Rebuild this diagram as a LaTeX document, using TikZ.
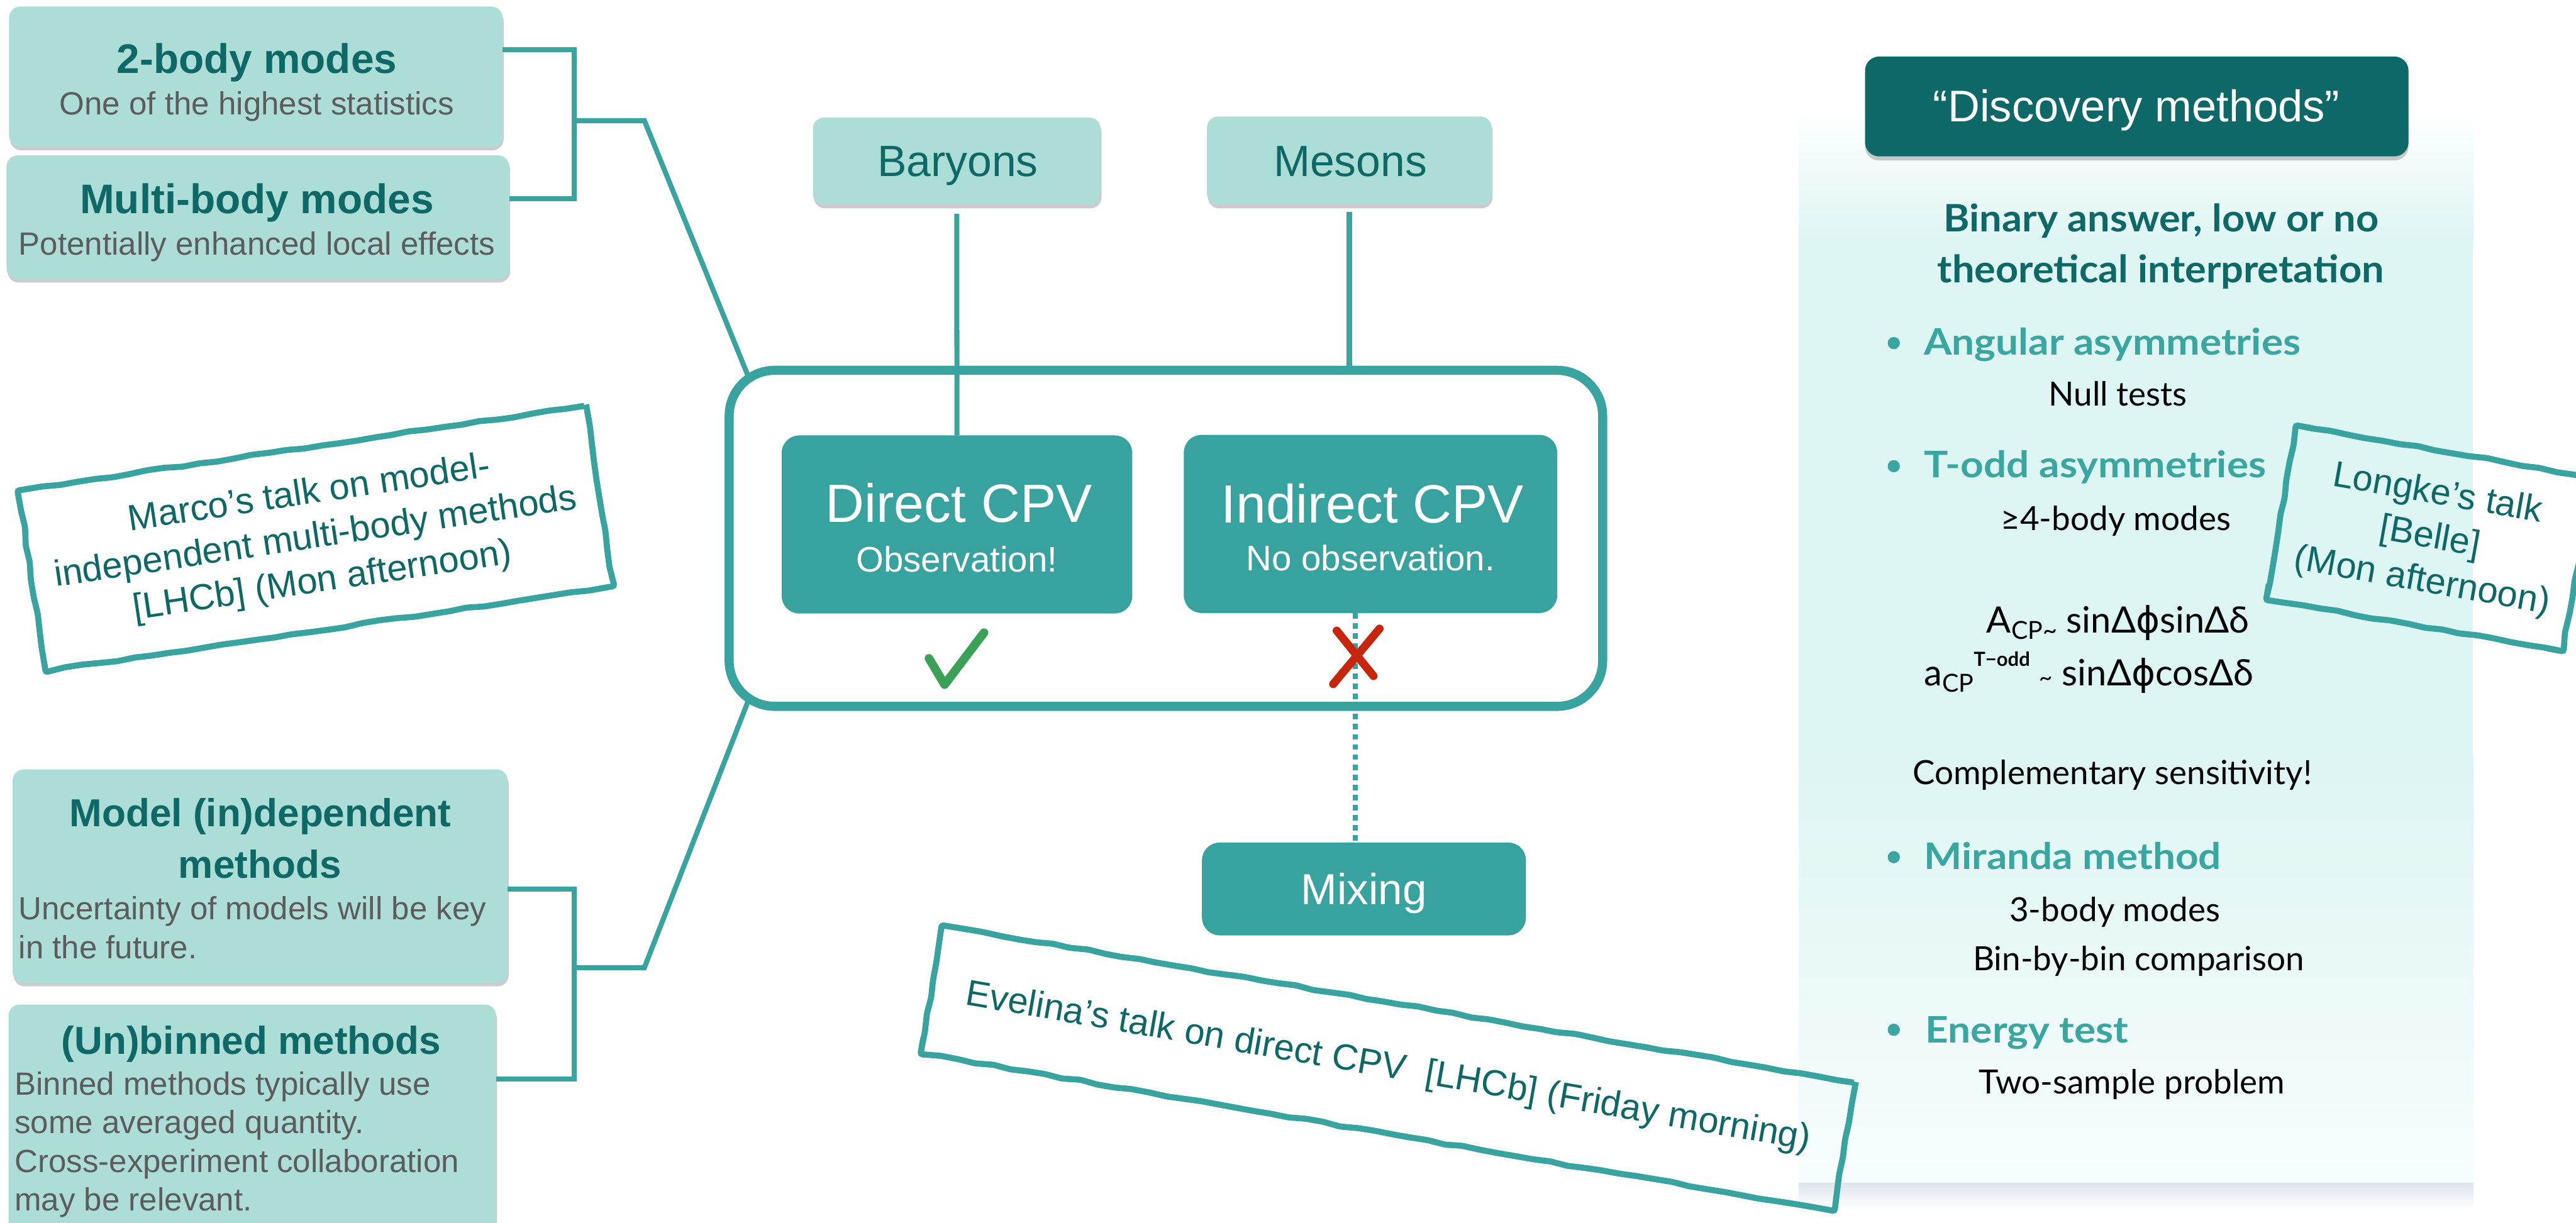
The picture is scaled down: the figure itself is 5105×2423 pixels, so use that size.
\documentclass[tikz,border=0pt]{standalone}
\usepackage{fontspec}
\setmainfont{Liberation Sans}
\newfontfamily\lato{Lato}
\newfontfamily\latow[FakeStretch=1.1]{Lato}
\newfontfamily\latom[FakeStretch=1.05]{Lato}
\newfontfamily\dejavu{DejaVu Sans}
\usetikzlibrary{fit,shadows,decorations.pathmorphing,calc}
\definecolor{lteal}{HTML}{ACDED7}
\definecolor{dteal}{HTML}{0D6866}
\definecolor{mteal}{HTML}{37A29E}
\definecolor{lnteal}{HTML}{38A39F}
\definecolor{gtext}{HTML}{5C5C5C}
\definecolor{hdr}{HTML}{0E6867}
\definecolor{bteal}{HTML}{3AA6A0}
\definecolor{pcyan}{HTML}{DDF5F3}
\definecolor{pend}{HTML}{F7FDFD}
\definecolor{okgreen}{HTML}{3BA157}
\definecolor{nored}{HTML}{C6260B}
\definecolor{shadowb}{HTML}{DCE4EE}
\begin{document}
\begin{tikzpicture}[x=0.01cm, y=-0.01cm,
  conn/.style={draw=lnteal, line width=0.1cm},
  lbox/.style={rectangle, fill=lteal, rounded corners=0.22cm, inner sep=0, outer sep=0,
    drop shadow={shadow xshift=0.02cm, shadow yshift=-0.07cm, opacity=0.2, fill=black}},
  tbox/.style={rectangle, fill=mteal, rounded corners=0.35cm, inner sep=0, outer sep=0},
  talkbox/.style={draw=lnteal, line width=0.12cm, rounded corners=0.04cm, decorate,
    decoration={random steps, segment length=0.35cm, amplitude=0.02cm},
    inner sep=0, outer sep=0, text=dteal, align=center,
    font=\fontsize{20.5}{25}\selectfont},
  txt/.style={inner sep=0, outer sep=0, anchor=base},
  txtl/.style={inner sep=0, outer sep=0, anchor=base west},
  ttl/.style={txt, text=dteal, font=\fontsize{23.3}{28}\selectfont\bfseries},
  ttlb/.style={txt, text=dteal, font=\fontsize{22}{28}\selectfont\bfseries},
  subt/.style={text=gtext, font=\fontsize{18.1}{22}\selectfont},
  catt/.style={txt, text=dteal, font=\fontsize{24.7}{30}\selectfont},
  bigw/.style={txt, text=white, font=\fontsize{30.4}{36}\selectfont},
  smw/.style={txt, text=white, font=\fontsize{20}{24}\selectfont},
  rbold/.style={txt, text=dteal, font=\latom\bfseries\fontsize{21.3}{25}\selectfont},
  rbul/.style={txtl, text=bteal, font=\latow\bfseries\fontsize{20.6}{24}\selectfont},
  rtxt/.style={txt, text=black, font=\lato\fontsize{18.8}{23}\selectfont},
  dotb/.style={circle, fill=bteal, inner sep=0, minimum size=0.24cm}
]
\pgfmathsetseed{7}
\useasboundingbox (0,0) rectangle (5105,2423);

% ---------- right panel background ----------
\shade[top color=white, bottom color=pcyan] (3565,220) rectangle (4901,480);
\fill[pcyan] (3565,479) rectangle (4901,1500);
\shade[top color=pcyan, bottom color=pend] (3565,1499) rectangle (4901,2345);
\shade[top color=shadowb, bottom color=white] (3565,2345) rectangle (4901,2395);

\node[rectangle, fill=hdr, rounded corners=0.28cm, inner sep=0, outer sep=0,
  drop shadow={shadow xshift=0.0cm, shadow yshift=-0.08cm, opacity=0.2, fill=black},
  fit={(3696,112) (4773,310)}] (hdrbox) {};
\node[txt, text=white, font=\fontsize{25}{30}\selectfont] (hdrt) at (4234,241) {“Discovery methods”};

\node[rbold] (bin1) at (4283,459) {Binary answer, low or no};
\node[rbold] (bin2) at (4282,560) {theoretical interpretation};

\node[dotb] (d1) at (3753,680) {};
\node[rbul] (ang) at (3813,703) {Angular asymmetries};
\node[rtxt] (nul) at (4197,804) {Null tests};
\node[dotb] (d2) at (3753,924) {};
\node[rbul] (todd) at (3813,947) {T-odd asymmetries};
\node[rtxt] (four) at (4193,1051) {≥4-body modes};
\node[txtl, font=\lato\fontsize{20.5}{24}\selectfont] (acp) at (3937,1254)
  {A\raisebox{-0.35ex}{\fontsize{14}{14}\selectfont CP\textasciitilde}\ sinΔ{\dejavu ϕ}sinΔδ};
\node[txtl, font=\lato\fontsize{20.5}{24}\selectfont] (acpt) at (3813,1359)
  {a\raisebox{-0.35ex}{\fontsize{14}{14}\selectfont CP}\raisebox{1.05ex}{\fontsize{11}{11}\selectfont\bfseries T−odd}\ {\fontsize{13}{13}\selectfont\textasciitilde}\ sinΔ{\dejavu ϕ}cosΔδ};
\node[rtxt] (compl) at (4186,1555) {Complementary sensitivity!};
\node[dotb] (d3) at (3753,1699) {};
\node[rbul] (mir) at (3813,1723) {Miranda method};
\node[rtxt] (three) at (4191,1826) {3-body modes};
\node[rtxt] (binby) at (4238,1924) {Bin-by-bin comparison};
\node[dotb] (d4) at (3753,2041) {};
\node[rbul] (ene) at (3816,2067) {Energy test};
\node[rtxt] (twos) at (4225,2168) {Two-sample problem};

% ---------- left boxes ----------
\node[lbox, fit={(18,13) (996,291)}] (A) {};
\node[ttl] (At) at (509,145) {2-body modes};
\node[txt, subt] (As) at (509,228) {One of the highest statistics};
\node[lbox, fit={(13,308) (1009,553)}] (B) {};
\node[ttl] (Bt) at (509,423) {Multi-body modes};
\node[txt, subt] (Bs) at (509,505) {Potentially enhanced local effects};

\node[lbox, fit={(25,1525) (1006,1948)}] (C) {};
\node[ttlb] (Ct1) at (516,1638) {Model (in)dependent};
\node[ttlb] (Ct2) at (515,1740) {methods};
\node[txtl, subt] (Cs1) at (37,1823) {Uncertainty of models will be key};
\node[txtl, subt] (Cs2) at (37,1900) {in the future.};

\node[lbox, fit={(17,1991) (983,2460)}] (D) {};
\node[ttlb] (Dt) at (498,2089) {(Un)binned methods};
\node[txtl, subt] (Ds1) at (29,2171) {Binned methods typically use};
\node[txtl, subt] (Ds2) at (29,2247) {some averaged quantity.};
\node[txtl, subt] (Ds3) at (29,2324) {Cross-experiment collaboration};
\node[txtl, subt] (Ds4) at (29,2400) {may be relevant.};

% ---------- central boxes ----------
\node[lbox, fit={(1611,233) (2181,406)}] (bar) {};
\node[catt] (bart) at (1898,349) {Baryons};
\node[lbox, fit={(2392,231) (2956,406)}] (mes) {};
\node[catt] (mest) at (2676,349) {Mesons};

\node[draw=lnteal, line width=0.18cm, rounded corners=0.9cm, fill=white, inner sep=0, outer sep=0,
  fit={(1445,734) (3176,1400)}] (main) {};

\node[tbox, fit={(1549,863) (2244,1216)}] (dir) {};
\node[bigw] (dirt) at (1900,1035) {Direct CPV};
\node[smw] (dirs) at (1896,1133) {Observation!};
\node[tbox, fit={(2346,862) (3086,1215)}] (ind) {};
\node[bigw] (indt) at (2720,1036) {Indirect CPV};
\node[smw] (inds) at (2716,1131) {No observation.};

\node[tbox, fit={(2382,1670) (3024,1854)}] (mix) {};
\node[txt, text=white, font=\fontsize{24.5}{30}\selectfont] (mixt) at (2703,1793) {Mixing};

% ---------- connectors ----------
\coordinate (jA) at (1138,99);
\coordinate (jB) at (1138,394);
\coordinate (jM1) at (1138,239);
\coordinate (kM1) at (1277,239);
\draw[conn] (A.east |- jA) -- (jA) -- (jB) -- (B.east |- jB);
\draw[conn] (jM1) -- (kM1) -- ([shift={(37,10)}]main.north west);

\coordinate (jC) at (1138,1762);
\coordinate (jD) at (1138,2139);
\coordinate (jM2) at (1138,1918);
\coordinate (kM2) at (1277,1918);
\draw[conn] (C.east |- jC) -- (jC) -- (jD) -- (D.east |- jD);
\draw[conn] (jM2) -- (kM2) -- ([shift={(37,-9)}]main.south west);

\draw[conn] ([shift={(0,18)}]bar.south) -- (dir.north);
\draw[conn] ([shift={(0,14)}]mes.south) -- (mes.south |- main.north);

\coordinate (dx) at (2686,0);
\draw[draw=lnteal, line width=0.1cm, dash pattern=on 0.11cm off 0.09cm]
  (ind.south -| dx) -- (mix.north -| dx);

% ---------- check and cross ----------
\coordinate (ck1) at (1841,1305);
\coordinate (ck2) at (1872,1357);
\coordinate (ck3) at (1950,1254);
\draw[okgreen, line width=0.17cm, line cap=round, line join=round] (ck1) -- (ck2) -- (ck3);
\coordinate (x1) at (2649,1250);
\coordinate (x2) at (2722,1340);
\coordinate (x3) at (2734,1246);
\coordinate (x4) at (2642,1356);
\draw[nored, line width=0.16cm, line cap=round] (x1) -- (x2);
\draw[nored, line width=0.16cm, line cap=round] (x3) -- (x4);

% ---------- talk notes ----------
\node[talkbox, fill=white, rotate=8.5, minimum width=11.37cm, minimum height=3.62cm] (marco) at (626,1067)
  {Marco’s talk on model-\\independent multi-body methods\\{}[LHCb] (Mon afternoon)};
\node[talkbox, rotate=-9.8, minimum width=18.35cm, minimum height=2.57cm] (eve) at (2751,2117)
  {Evelina’s talk on direct CPV\ \ [LHCb] (Friday morning)};
\node[talkbox, rotate=-10, minimum width=5.96cm, minimum height=3.49cm] (longke) at (4815,1067)
  {Longke’s talk\\{}[Belle]\\(Mon afternoon)};
\end{tikzpicture}
\end{document}
